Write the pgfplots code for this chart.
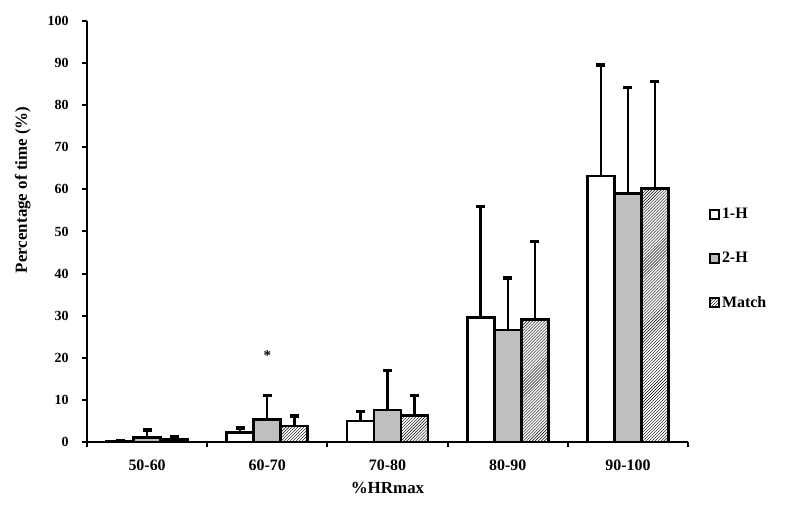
\documentclass[border=0pt]{standalone}
\usepackage{fontspec}
\setmainfont{Liberation Serif}
\usepackage{pgfplots}
\usepackage{pgfplotstable}
\pgfplotsset{compat=1.18}
\usetikzlibrary{patterns}

% HR zones: mean and SD (plus side only)
\pgfplotstableread{
cat h1   h1e  h2   h2e  m    me
0   0.2  0.0  1.0  1.8  0.6  0.6
1   2.2  1.1  5.4  5.7  3.8  2.4
2   5.0  2.2  7.6  9.4  6.2  4.8
3   29.6 26.3 26.6 12.3 29.1 18.5
4   63.2 26.3 59.1 25.1 60.3 25.3
}\hrdata

\begin{document}
\begin{tikzpicture}
\begin{axis}[
  scale only axis,
  width=601bp, height=421bp,
  ymin=0, ymax=100,
  ytick={0,10,...,100},
  xmin=-0.5, xmax=4.5,
  xtick={-0.5,0.5,...,4.5},
  xticklabels={50-60,60-70,70-80,80-90,90-100},
  x tick label as interval,
  axis lines*=left,
  axis line style={line width=2.8bp},
  tick style={line width=2bp, black},
  major tick length=5bp,
  tick align=outside,
  /pgf/number format/assume math mode=true,
  yticklabel style={font=\fontsize{14}{15}\selectfont\bfseries, xshift=-10bp},
  xticklabel style={font=\fontsize{16}{18}\selectfont\bfseries, yshift=-9bp},
  xlabel={\%HRmax},
  ylabel={Percentage of time (\%)},
  every axis x label/.style={at={(axis description cs:0.5,0)}, anchor=center,
    yshift=-46bp, font=\fontsize{17}{19}\selectfont\bfseries},
  every axis y label/.style={at={(axis description cs:-0.107,0.599)}, anchor=center,
    rotate=90, font=\fontsize{17}{19}\selectfont\bfseries},
  ybar=0pt,
  bar width=0.225,
  legend style={at={(1.03,0.565)}, anchor=north west, draw=none,
    font=\fontsize{16}{18}\selectfont\bfseries, row sep=28bp,
    /tikz/every even column/.append style={column sep=2bp}},
  legend cell align=left,
  legend image code/.code={\draw[#1, line width=1.8bp] (0bp,-4.5bp) rectangle (9bp,4.5bp);},
  every axis plot/.append style={line width=2.8bp, draw=black},
  error bars/error bar style={line width=2.4bp, black, solid},
  error bars/error mark options={rotate=90, line width=3.5bp, black, mark size=4.5bp},
]
\addplot[fill=white, error bars/.cd, y dir=plus, y explicit]
  table[x=cat, y=h1, y error=h1e] {\hrdata};
\addlegendentry{1-H}
\addplot[fill=black!25, error bars/.cd, y dir=plus, y explicit]
  table[x=cat, y=h2, y error=h2e] {\hrdata};
\addlegendentry{2-H}
\addplot[pattern=north east lines, error bars/.cd, y dir=plus, y explicit]
  table[x=cat, y=m, y error=me] {\hrdata};
\addlegendentry{Match}
\node[font=\fontsize{15}{17}\selectfont\bfseries] at (axis cs:1,20.6) {*};
\end{axis}
\path (current axis.south west) ++(-87bp,-68bp) rectangle ++(787bp,510bp);
\end{tikzpicture}
\end{document}
